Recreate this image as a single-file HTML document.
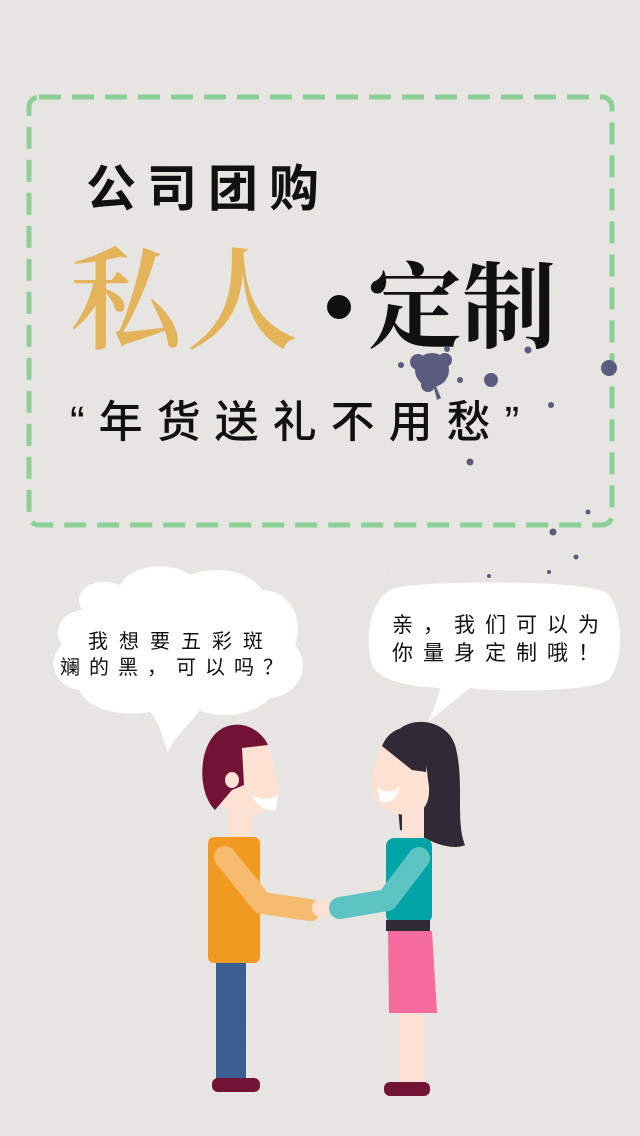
<!DOCTYPE html>
<html><head><meta charset="utf-8">
<style>
html,body{margin:0;padding:0;}
body{width:640px;height:1136px;overflow:hidden;background:#e9e7e4;position:relative;font-family:"Liberation Sans","Noto Sans CJK SC",sans-serif;}
svg{position:absolute;left:0;top:0;}
</style></head>
<body>
<svg width="640" height="1136" viewBox="0 0 640 1136">
  <defs>
    <filter id="tex" x="0" y="0" width="100%" height="100%">
      <feTurbulence type="fractalNoise" baseFrequency="0.9" numOctaves="2" seed="3"/>
      <feColorMatrix type="matrix" values="0 0 0 0 0.5  0 0 0 0 0.5  0 0 0 0 0.5  0 0 0 0.08 0"/>
    </filter>
  </defs>
  <rect width="640" height="1136" fill="#e9e7e4"/>
  <rect width="640" height="1136" filter="url(#tex)"/>

  <rect x="29" y="97" width="583" height="428" rx="10" fill="none" stroke="#8ccf97" stroke-width="5" stroke-dasharray="22 11"/>

  <text x="86" y="206" font-size="50" font-weight="bold" letter-spacing="11" fill="#111" font-family="'Liberation Sans','Noto Sans CJK SC',sans-serif">公司团购</text>
  <text x="70" y="340" font-size="112" fill="#e4b45a" font-weight="600" font-family="'Liberation Serif','Noto Serif CJK SC',serif" letter-spacing="4">私人</text>
  <circle cx="339" cy="307" r="12" fill="#111"/>
  <text x="368" y="340" font-size="94" fill="#111" font-weight="bold" font-family="'Liberation Serif','Noto Serif CJK SC',serif">定制</text>

  <g fill="#5a5b7e">
    <circle cx="432" cy="370" r="17"/>
    <circle cx="418" cy="362" r="8"/>
    <circle cx="445" cy="360" r="7"/>
    <circle cx="428" cy="385" r="7"/>
    <path d="M430 372 L437 400 L441 398 Z"/>
    <circle cx="401" cy="365" r="3"/>
    <circle cx="460" cy="380" r="3"/>
    <circle cx="447" cy="349" r="3"/>
    <circle cx="491" cy="380" r="7"/>
    <circle cx="528" cy="350" r="3.5"/>
    <circle cx="609" cy="368" r="8"/>
    <circle cx="551" cy="405" r="3"/>
    <circle cx="470" cy="462" r="3.5"/>
    <circle cx="588" cy="512" r="2.5"/>
    <circle cx="553" cy="532" r="3.5"/>
    <circle cx="576" cy="557" r="2.5"/>
    <circle cx="549" cy="572" r="2"/>
    <circle cx="489" cy="576" r="2"/>
  </g>

  <text x="70" y="437" font-size="44" fill="#111" font-weight="500" letter-spacing="14" font-family="'Liberation Sans','Noto Sans CJK SC',sans-serif">“年货送礼不用愁”</text>

  <!-- left speech bubble -->
  <path d="M82 610 C70 590 95 575 120 585 C130 565 170 560 190 575 C215 565 250 570 262 590 C290 590 305 620 295 645 C312 665 300 695 270 698 C255 715 220 720 200 710 C190 725 175 735 168 752 C162 738 160 722 150 712 C120 718 85 708 80 690 C55 688 45 660 62 645 C52 630 62 612 82 610 Z" fill="#fff"/>
  <text x="88" y="648" font-size="20" letter-spacing="11" fill="#111">我想要五彩斑</text>
  <text x="60" y="674" font-size="20" letter-spacing="9" fill="#111">斓的黑，可以吗？</text>

  <!-- right speech bubble -->
  <path d="M395 588 C430 580 580 580 605 592 C625 605 625 672 605 682 C580 692 500 692 470 688 C455 700 440 712 428 722 C434 708 438 698 440 688 C410 686 380 682 372 665 C365 640 368 598 395 588 Z" fill="#fff"/>
  <text x="392" y="632" font-size="21" letter-spacing="10" fill="#111">亲，我们可以为</text>
  <text x="392" y="660" font-size="21" letter-spacing="10" fill="#111">你量身定制哦！</text>

  <!-- man -->
  <g>
    <rect x="216" y="955" width="30" height="127" fill="#3a5e8f"/>
    <rect x="212" y="1078" width="48" height="14" rx="6" fill="#721336"/>
    <rect x="228" y="810" width="24" height="32" fill="#fde1d2"/>
    <rect x="208" y="837" width="52" height="126" rx="6" fill="#f19a22"/>
    <path d="M206 770 C204 730 250 715 268 745 L278 780 C282 800 270 815 245 815 C225 815 210 800 206 770 Z" fill="#fde1d2"/>
    <path d="M215 810 C195 790 198 735 228 726 C248 720 264 735 268 745 L242 748 L244 785 L232 790 Z" fill="#721336"/>
    <ellipse cx="232" cy="780" rx="7" ry="8" fill="#fde1d2"/>
    <path d="M252 795 C262 800 272 800 278 795 L276 810 C266 812 256 805 252 795 Z" fill="#fff"/>
    <line x1="225" y1="857" x2="262" y2="903" stroke="#f6bb6e" stroke-width="22" stroke-linecap="round"/>
    <line x1="262" y1="903" x2="310" y2="910" stroke="#f6bb6e" stroke-width="22" stroke-linecap="round"/>
    <ellipse cx="322" cy="908" rx="10" ry="9" fill="#fde1d2"/>
  </g>

  <!-- woman -->
  <g>
    <path d="M392 740 C400 715 445 715 455 745 C465 780 455 820 465 845 C455 850 435 845 420 835 L400 830 Z" fill="#2f2a35"/>
    <rect x="400" y="1010" width="24" height="75" fill="#fde1d2"/>
    <rect x="384" y="1082" width="46" height="14" rx="6" fill="#721336"/>
    <rect x="402" y="805" width="22" height="38" fill="#fde1d2"/>
    <rect x="386" y="838" width="46" height="85" rx="8" fill="#00a3a6"/>
    <rect x="386" y="920" width="44" height="11" fill="#2f2a35"/>
    <path d="M388 931 L432 931 L437 1013 L389 1013 Z" fill="#f56b9d"/>
    <path d="M425 750 C418 730 390 728 380 748 L372 775 C368 800 385 815 408 815 C425 815 432 800 428 780 Z" fill="#fde1d2"/>
    <path d="M382 746 C392 722 420 722 430 742 L426 772 L412 770 Z" fill="#2f2a35"/>
    <ellipse cx="414" cy="779" rx="6" ry="8" fill="#fde1d2"/>
    <path d="M377 787 C385 794 396 792 400 786 C398 800 385 806 380 800 Z" fill="#fff"/>
    <line x1="419" y1="858" x2="387" y2="900" stroke="#5dc4c4" stroke-width="22" stroke-linecap="round"/>
    <line x1="387" y1="900" x2="340" y2="908" stroke="#5dc4c4" stroke-width="22" stroke-linecap="round"/>
  </g>
</svg>
</body></html>
